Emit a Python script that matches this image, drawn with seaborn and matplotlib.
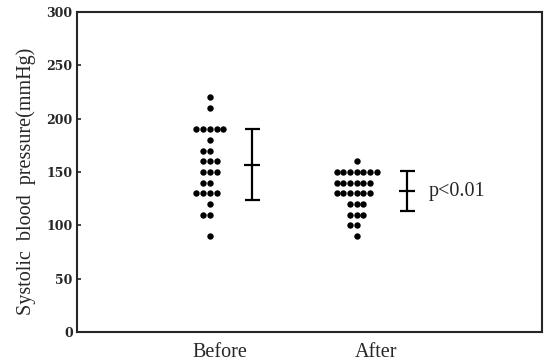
import numpy as np
import pandas as pd
import seaborn as sns
import matplotlib.pyplot as plt

# systolic pressure of each subject
before = [220, 210, 190, 190, 190, 190, 190, 180, 170, 170, 160, 160, 160,
          150, 150, 150, 140, 140, 130, 130, 130, 130, 120, 110, 110, 90]
after = [160, 150, 150, 150, 150, 150, 150, 150, 140, 140, 140, 140, 140, 140,
         130, 130, 130, 130, 130, 130, 120, 120, 120, 110, 110, 110, 100, 100, 90]
groups = ["Before", "After"]
means = [157, 132]
sds = [33, 19]
p_text = "p<0.01"

df = pd.DataFrame({
    "group": ["Before"] * len(before) + ["After"] * len(after),
    "sbp": before + after,
})

sns.set_style("ticks")
plt.rcParams["font.family"] = ["Liberation Serif", "DejaVu Serif"]

fig = plt.figure(figsize=(5.49, 3.64), dpi=100)
ax = fig.add_axes([0.140, 0.088, 0.847, 0.879])

sns.swarmplot(data=df, x="group", y="sbp", order=groups, color="black",
              size=4.6, linewidth=0, ax=ax)

# mean +/- SD bars to the right of each column
offsets = [0.29, 0.34]
for i in range(len(groups)):
    ax.errorbar(i + offsets[i], means[i], yerr=sds[i], fmt="_", color="black",
                markersize=11, markeredgewidth=1.6, elinewidth=1.6,
                capsize=5.4, capthick=1.6)

ax.text(1 + offsets[1] + 0.15, means[1], p_text, fontsize=14.5, va="center", ha="left")

ax.set_xlim(-0.905, 2.26)
ax.set_ylim(0, 300)
# group names sit a little right of the dot columns in the original
ax.set_xticks([0.07, 1.13])
ax.set_xticklabels(groups)
ax.set_yticks(range(0, 301, 50))
ax.set_yticklabels([str(v) for v in range(0, 301, 50)], fontweight="bold",
                   fontsize=9, family="DejaVu Serif")
ax.tick_params(axis="y", direction="in", length=3, width=1.2, pad=3)
ax.tick_params(axis="x", length=0, pad=8, labelsize=14.5)
ax.set_xlabel("")
ax.set_ylabel("Systolic  blood  pressure(mmHg)", fontsize=14.5)
ax.yaxis.set_label_coords(-0.088, 0.47)
for s in ax.spines.values():
    s.set_linewidth(1.5)
    s.set_visible(True)

fig.savefig("out.png", dpi=100)
